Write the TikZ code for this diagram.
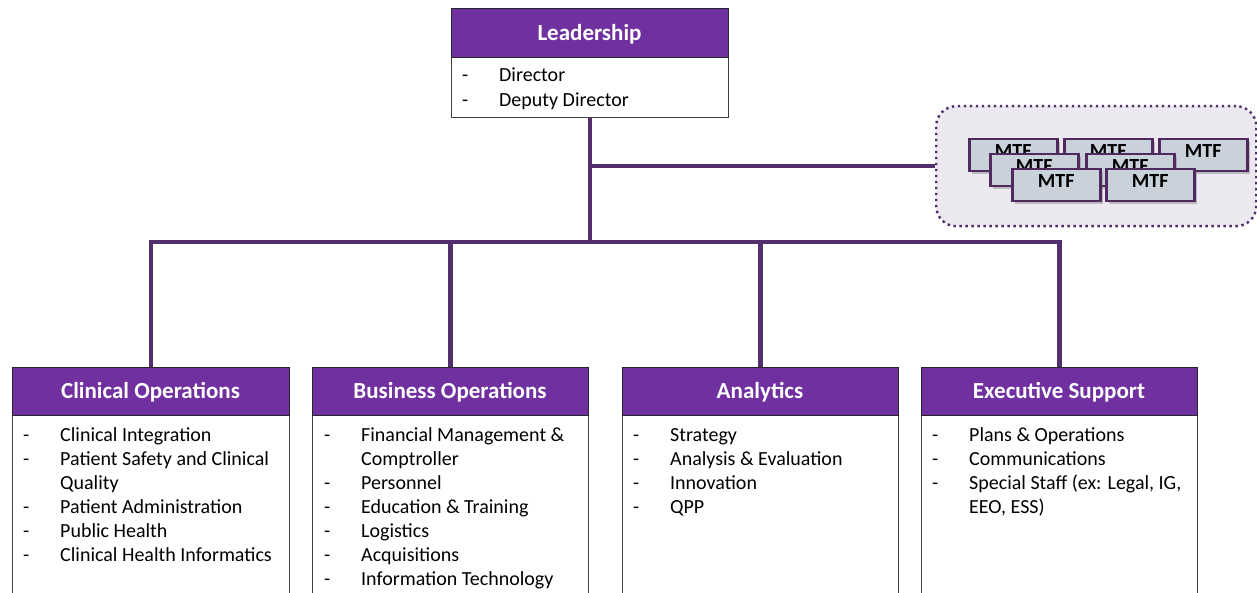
\documentclass[tikz,border=0pt]{standalone}
\usepackage{fontspec}
\setmainfont{Carlito}
\usetikzlibrary{shadows}
\pgfdeclarelayer{background}
\pgfsetlayers{background,main}
\definecolor{hdr}{HTML}{7030A0}
\definecolor{conn}{HTML}{532E6C}
\definecolor{grpfill}{HTML}{ECE8EF}
\definecolor{mtffill}{HTML}{C9D2DA}
\definecolor{mtfline}{HTML}{4E2A5F}
\tikzset{
 box/.style={draw=black!75, line width=1.3pt, fill=white, inner sep=0pt, anchor=north west},
 head/.style={draw=black!85, line width=1.3pt, fill=hdr, inner sep=0pt, anchor=north west},
 title/.style={text=white, font=\fontsize{23}{26}\selectfont\bfseries, anchor=base, inner sep=0pt},
 body/.style={anchor=base west, inner sep=0pt, font=\fontsize{20}{24}\selectfont},
 link/.style={draw=conn, line width=4.5pt},
 mtf/.style={draw=mtfline, line width=2.5pt, fill=mtffill, minimum width=88pt, minimum height=32pt,
   inner sep=0pt, anchor=north west, text depth=8pt, font=\fontsize{20}{20}\selectfont\bfseries,
   drop shadow={shadow xshift=2.5pt, shadow yshift=-2.5pt, opacity=0.35, fill=black!60}},
 grp/.style={draw=conn, line width=2.4pt, dash pattern=on 2.4pt off 3.6pt, fill=grpfill,
   rounded corners=20pt, minimum width=320pt, minimum height=120pt, inner sep=0pt, anchor=north west},
}
\newcommand{\bodytab}[1]{\begin{tabular}[t]{@{}p{37pt}@{}l@{}}#1\end{tabular}}
\begin{document}
\begin{tikzpicture}[x=1pt,y=-1pt]
\useasboundingbox (0,0) rectangle (1257,593);
\clip (0,0) rectangle (1257,593);

% MTF group
\node[grp] (grp) at (935,105) {};
\node[mtf] (m1) at (968,138) {MTF};
\node[mtf] (m2) at (1063,138) {MTF};
\node[mtf] (m3) at (1158,138) {MTF};
\node[mtf] (m4) at (989,153) {MTF};
\node[mtf] (m5) at (1085,153) {MTF};
\node[mtf] (m6) at (1011,168) {MTF};
\node[mtf] (m7) at (1105,168) {MTF};

% Leadership
\node[box, minimum width=277pt, minimum height=109pt] (lead) at (451,8) {};
\node[head, minimum width=277pt, minimum height=49pt] (leadH) at (451,8) {};
\node[title] (leadT) at (589.5,40.5) {Leadership};
\node[body] (leadB) at (462,82) {\fontsize{20}{25}\selectfont\bodytab{- & Director\\ - & Deputy Director}};

% Clinical Operations
\node[box, minimum width=277pt, minimum height=260pt] (clin) at (12,367) {};
\node[head, minimum width=277pt, minimum height=48pt] (clinH) at (12,367) {};
\node[title] (clinT) at (150.5,398.5) {Clinical Operations};
\node[body] (clinB) at (23,441) {\bodytab{- & Clinical Integration\\ - & Patient Safety and Clinical\\ & Quality\\ - & Patient Administration\\ - & Public Health\\ - & Clinical Health Informatics}};

% Business Operations
\node[box, minimum width=276pt, minimum height=260pt] (busi) at (312,367) {};
\node[head, minimum width=276pt, minimum height=48pt] (busiH) at (312,367) {};
\node[title] (busiT) at (450,398.5) {Business Operations};
\node[body] (busiB) at (324,441) {\bodytab{- & Financial Management \&\\ & Comptroller\\ - & Personnel\\ - & Education \& Training\\ - & Logistics\\ - & Acquisitions\\ - & Information Technology}};

% Analytics
\node[box, minimum width=276pt, minimum height=260pt] (ana) at (622,367) {};
\node[head, minimum width=276pt, minimum height=48pt] (anaH) at (622,367) {};
\node[title] (anaT) at (760,398.5) {Analytics};
\node[body] (anaB) at (633,441) {\bodytab{- & Strategy\\ - & Analysis \& Evaluation\\ - & Innovation\\ - & QPP}};

% Executive Support
\node[box, minimum width=276pt, minimum height=260pt] (exe) at (921,367) {};
\node[head, minimum width=276pt, minimum height=48pt] (exeH) at (921,367) {};
\node[title] (exeT) at (1059,398.5) {Executive Support};
\node[body] (exeB) at (932,441) {\bodytab{- & Plans \& Operations\\ - & Communications\\ - & Special Staff (ex: Legal, IG,\\ & EEO, ESS)}};

\coordinate (busy) at (0,242);

% connectors
\begin{pgfonlayer}{background}
\fill[white] (0,0) rectangle (1257,593);
\draw[link] (lead.south) -- (lead.south |- busy);
\draw[link] (lead.south |- grp.west) -- (grp.west);
\draw[link, line join=miter] (clin.north) -- (clin.north |- busy) -- (exe.north |- busy) -- (exe.north);
\draw[link] (busi.north |- busy) -- (busi.north);
\draw[link] (ana.north |- busy) -- (ana.north);
\end{pgfonlayer}
\end{tikzpicture}
\end{document}
